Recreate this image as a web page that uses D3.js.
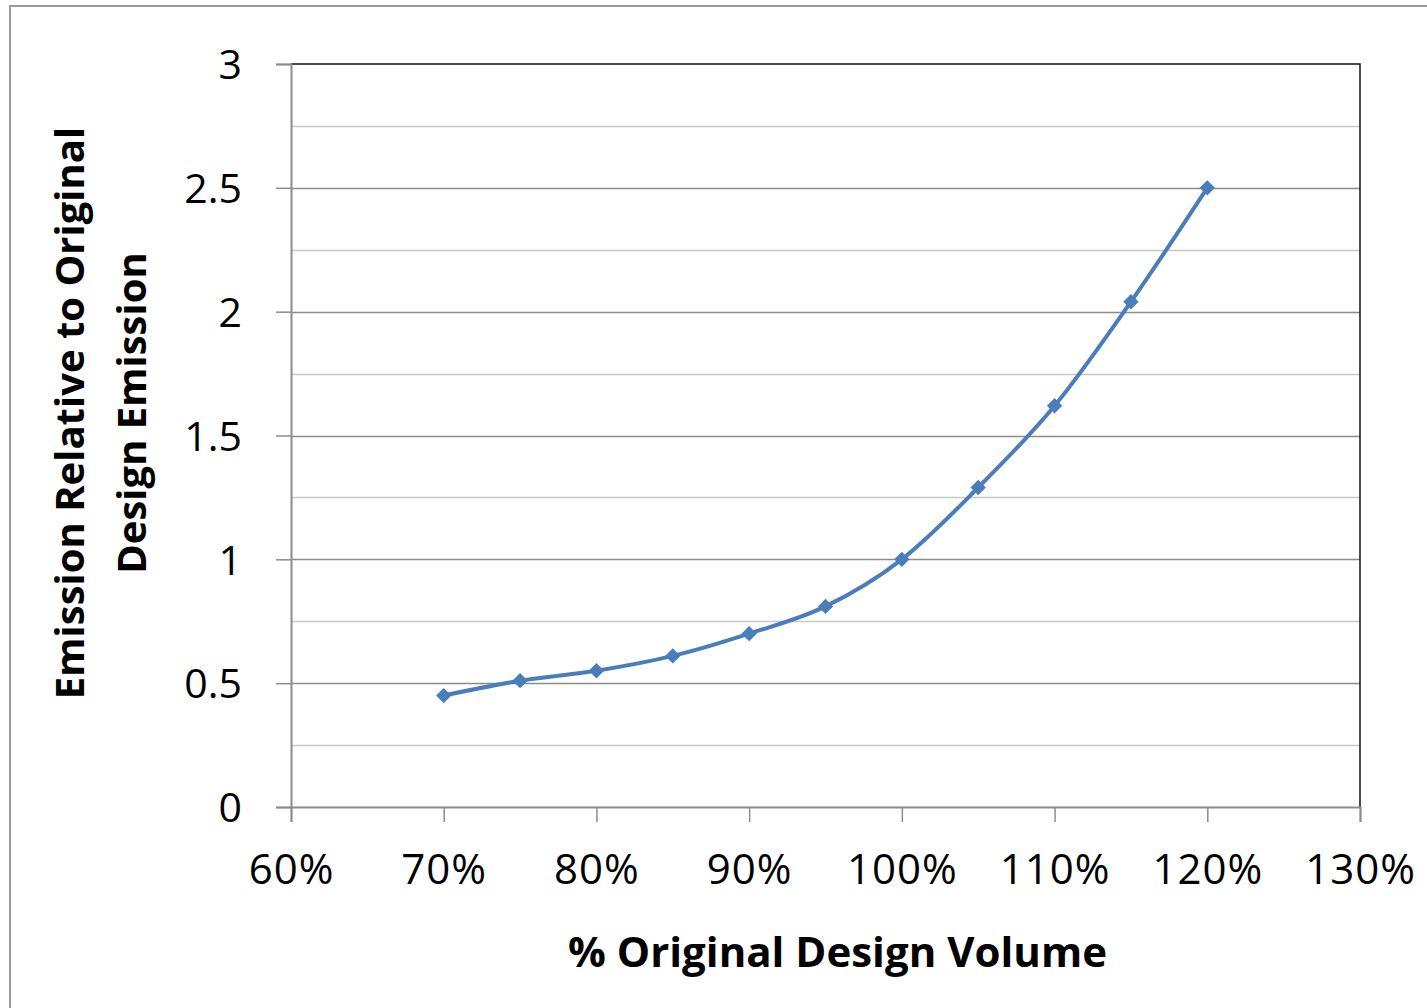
<!DOCTYPE html>
<html>
<head>
<meta charset="utf-8">
<script src="https://cdn.jsdelivr.net/npm/d3@7"></script>
<style>
  html, body { margin: 0; padding: 0; background: #fff; }
  svg { display: block; }
  text { font-family: "Open Sans", "Noto Sans", sans-serif; fill: #000; }
</style>
</head>
<body>
<svg id="chart" width="1427" height="1008"></svg>
<script>
// Design volume (fraction of original) and relative emission
const volume   = [0.70, 0.75, 0.80, 0.85, 0.90, 0.95, 1.00, 1.05, 1.10, 1.15, 1.20];
const emission = [0.45, 0.51, 0.55, 0.61, 0.70, 0.81, 1.00, 1.29, 1.62, 2.04, 2.50];

const xTicks = [0.6, 0.7, 0.8, 0.9, 1.0, 1.1, 1.2, 1.3];
const yTicks = [0, 0.5, 1, 1.5, 2, 2.5, 3];
const yMinorTicks = [0.25, 0.75, 1.25, 1.75, 2.25, 2.75];

const xTitle = "% Original Design Volume";
const yTitleLines = ["Emission Relative to Original", "Design Emission"];

const svg = d3.select("#chart");
const W = 1427, H = 1008;
const plot = { left: 291, top: 64, right: 1360, bottom: 807 };

// outer chart-area frame
svg.append("path")
  .attr("d", `M10,${H + 2}V6H${W + 2}`)
  .attr("fill", "none")
  .attr("stroke", "#9a9a9a")
  .attr("stroke-width", 2);

const x = d3.scaleLinear().domain([0.6, 1.3]).range([plot.left, plot.right]);
const y = d3.scaleLinear().domain([0, 3]).range([plot.bottom, plot.top]);

// minor gridlines
svg.append("g").selectAll("line").data(yMinorTicks).join("line")
  .attr("x1", plot.left).attr("x2", plot.right)
  .attr("y1", d => Math.round(y(d)) + 0.5).attr("y2", d => Math.round(y(d)) + 0.5)
  .attr("stroke", "#c8c8c8").attr("stroke-width", 1.5);

// major gridlines
svg.append("g").selectAll("line").data(yTicks.filter(d => d > 0 && d < 3)).join("line")
  .attr("x1", plot.left).attr("x2", plot.right)
  .attr("y1", d => Math.round(y(d)) + 0.5).attr("y2", d => Math.round(y(d)) + 0.5)
  .attr("stroke", "#8c8c8c").attr("stroke-width", 1.5);

// plot area top/right edges
svg.append("path")
  .attr("d", `M${plot.left},${plot.top}H${plot.right}V${plot.bottom}`)
  .attr("fill", "none").attr("stroke", "#111").attr("stroke-width", 1.5);

// y axis
const yAxis = svg.append("g")
  .attr("transform", `translate(${plot.left},0)`)
  .call(d3.axisLeft(y).tickValues(yTicks).tickSize(15).tickPadding(34)
    .tickFormat(d3.format("")));
yAxis.select(".domain").attr("stroke", "#8c8c8c").attr("stroke-width", 2);
yAxis.selectAll(".tick line").attr("stroke", "#8c8c8c").attr("stroke-width", 1.5);
yAxis.selectAll(".tick text").attr("font-size", 41).attr("dy", "0.36em")
  .style("font-family", "'Open Sans', sans-serif").attr("fill", "#000");

// x axis
const xAxis = svg.append("g")
  .attr("transform", `translate(0,${plot.bottom})`)
  .call(d3.axisBottom(x).tickValues(xTicks).tickSize(15).tickPadding(32)
    .tickFormat(d3.format(".0%")));
xAxis.select(".domain").attr("stroke", "#8c8c8c").attr("stroke-width", 2);
xAxis.selectAll(".tick line").attr("stroke", "#8c8c8c").attr("stroke-width", 1.5);
xAxis.selectAll(".tick text").attr("font-size", 42).attr("dy", "0.71em")
  .attr("letter-spacing", 1)
  .style("font-family", "'Open Sans', sans-serif").attr("fill", "#000");

// series line (smoothed)
const pts = volume.map((v, i) => [v, emission[i]]);
svg.append("path")
  .datum(pts)
  .attr("fill", "none")
  .attr("stroke", "#4a7ebb")
  .attr("stroke-width", 4)
  .attr("stroke-linejoin", "round")
  .attr("d", d3.line().x(d => x(d[0])).y(d => y(d[1])).curve(d3.curveCardinal.tension(0)));

// diamond markers
svg.append("g").selectAll("path").data(pts).join("path")
  .attr("transform", d => `translate(${x(d[0])},${y(d[1])})`)
  .attr("d", d3.symbol(d3.symbolDiamond2, 150))
  .attr("fill", "#4a7ebb");

// axis titles
svg.append("text")
  .attr("x", (plot.left + plot.right) / 2 + 12)
  .attr("y", 967)
  .attr("text-anchor", "middle")
  .attr("font-size", 42)
  .attr("font-weight", "bold")
  .text(xTitle);

const yt = svg.append("text")
  .attr("transform", "translate(0,413) rotate(-90)")
  .attr("text-anchor", "middle")
  .attr("font-size", 40)
  .attr("font-weight", "bold");
yTitleLines.forEach((t, i) => {
  yt.append("tspan").attr("x", 0).attr("y", 84 + i * 62).text(t);
});
</script>
</body>
</html>
